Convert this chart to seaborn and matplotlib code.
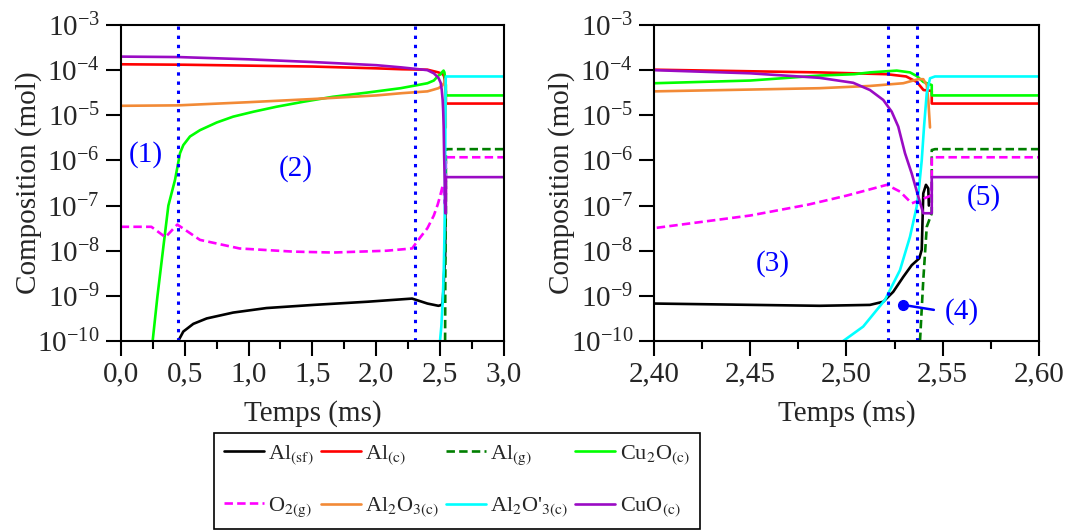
import numpy as np
import pandas as pd
import matplotlib
matplotlib.use("Agg")
import matplotlib.pyplot as plt
import matplotlib.ticker as mticker
import seaborn as sns

sns.set_style("ticks")
plt.rcParams['font.family'] = ['Liberation Serif', 'DejaVu Serif']
plt.rcParams['mathtext.fontset'] = 'stix'
plt.rcParams['mathtext.default'] = 'rm'

# Data: time (ms) and log10 of composition (mol)
t_alsf = [0.45, 0.49, 0.568, 0.673, 0.88, 1.14, 1.51, 1.93, 2.28, 2.40, 2.486, 2.5122, 2.5191,
          2.5243, 2.5295, 2.5339, 2.5378, 2.5391, 2.5399, 2.5413, 2.5425, 2.5428]
e_alsf = [-10.0, -9.79, -9.62, -9.50, -9.37, -9.27, -9.20, -9.13, -9.06, -9.17, -9.22, -9.20, -9.13,
          -8.91, -8.58, -8.32, -8.17, -7.98, -6.73, -6.54, -6.62, -7.0]

t_alc = [0.0, 0.5, 1.0, 1.5, 2.0, 2.2, 2.40, 2.486, 2.521, 2.531, 2.5365, 2.540, 2.5443, 2.5443, 3.0]
e_alc = [-3.87, -3.88, -3.90, -3.92, -3.96, -3.98, -3.99, -4.05, -4.09, -4.14, -4.26, -4.44, -4.46, -4.74, -4.74]

t_alg = [2.5382, 2.5399, 2.5417, 2.5443, 2.5443, 2.546, 3.0]
e_alg = [-10.0, -8.65, -7.47, -7.17, -5.77, -5.75, -5.75]

t_cu2o = [0.25, 0.287, 0.334, 0.373, 0.425, 0.464, 0.49, 0.542, 0.62, 0.751, 0.88, 1.04, 1.22, 1.43,
          1.66, 1.92, 2.19, 2.40, 2.45, 2.486, 2.504, 2.5122, 2.5261, 2.533, 2.5365, 2.5399, 2.5443,
          2.5443, 3.0]
e_cu2o = [-10.0, -9.02, -7.91, -7.0, -6.43, -5.84, -5.66, -5.47, -5.33, -5.16, -5.03, -4.92, -4.81, -4.70,
          -4.59, -4.50, -4.40, -4.29, -4.23, -4.12, -4.09, -4.05, -4.01, -4.05, -4.13, -4.26, -4.33,
          -4.56, -4.56]

t_o2 = [0.0, 0.24, 0.35, 0.443, 0.62, 0.93, 1.35, 1.66, 2.08, 2.28, 2.342, 2.40, 2.45, 2.48, 2.50,
        2.521, 2.5278, 2.5339, 2.5382, 2.5443, 2.5443, 3.0]
e_o2 = [-7.47, -7.47, -7.70, -7.42, -7.76, -7.95, -8.02, -8.04, -8.00, -7.95, -7.71, -7.50, -7.22, -6.98, -6.78,
        -6.54, -6.69, -6.95, -6.88, -6.77, -5.93, -5.93]

t_al2o3 = [0.0, 0.45, 1.0, 1.5, 2.0, 2.2, 2.40, 2.45, 2.486, 2.5122, 2.5295, 2.5373, 2.5399, 2.5417,
           2.5425, 2.5434]
e_al2o3 = [-4.79, -4.78, -4.71, -4.64, -4.56, -4.51, -4.47, -4.43, -4.40, -4.35, -4.29, -4.20, -4.20, -4.33,
           -4.66, -5.27]

t_al2o3p = [2.4983, 2.5087, 2.52, 2.5278, 2.533, 2.5365, 2.5377, 2.5391, 2.5403, 2.5417, 2.5434, 2.546, 3.0]
e_al2o3p = [-10.0, -9.68, -9.09, -8.43, -7.69, -7.02, -6.6, -6.0, -5.25, -4.51, -4.18, -4.14, -4.14]

t_cuo = [0.0, 0.45, 1.0, 1.5, 2.0, 2.2, 2.40, 2.45, 2.486, 2.5035, 2.5122, 2.5191, 2.5235, 2.5269,
         2.5304, 2.5339, 2.5373, 2.5399, 2.5443, 2.5443, 3.0]
e_cuo = [-3.70, -3.71, -3.76, -3.82, -3.89, -3.94, -4.00, -4.07, -4.17, -4.28, -4.44, -4.66, -4.92, -5.25,
         -5.84, -6.29, -6.80, -7.17, -7.17, -6.37, -6.37]

labels = ['Al$_{(sf)}$', 'Al$_{(c)}$', 'Al$_{(g)}$', 'Cu$_2$O$_{(c)}$',
          'O$_{2(g)}$', 'Al$_2$O$_{3(c)}$', "Al$_2$O'$_{3(c)}$", 'CuO$_{(c)}$']
series = [(t_alsf, e_alsf), (t_alc, e_alc), (t_alg, e_alg), (t_cu2o, e_cu2o),
          (t_o2, e_o2), (t_al2o3, e_al2o3), (t_al2o3p, e_al2o3p), (t_cuo, e_cuo)]
colors = ['black', '#ff0000', '#007f00', '#00ff00', '#ff00ff', '#f28a36', '#00ffff', '#9a0bc4']
dashed = [False, False, True, False, True, False, False, False]

# phase boundaries (ms)
bornes_gauche = [0.446, 2.30]
bornes_droite = [2.5217, 2.5368]

fig = plt.figure(figsize=(10.71, 5.32), dpi=100)
ax1 = fig.add_axes([0.1127, 0.359, 0.358, 0.594])
ax2 = fig.add_axes([0.6106, 0.359, 0.3595, 0.594])

for ax in (ax1, ax2):
    for (t, e), lab, c, d in zip(series, labels, colors, dashed):
        df = pd.DataFrame({'t': t, 'c': 10.0 ** np.array(e)})
        ls = (0, (3.2, 1.6)) if d else '-'
        sns.lineplot(data=df, x='t', y='c', ax=ax, color=c, lw=1.9, linestyle=ls,
                     estimator=None, sort=False, label=lab, legend=False)
    ax.set_yscale('log')
    ax.set_ylim(1e-10, 1e-3)
    ax.yaxis.set_major_locator(mticker.LogLocator(base=10, numticks=20))
    ax.yaxis.set_minor_locator(mticker.NullLocator())
    ax.yaxis.set_major_formatter(mticker.FuncFormatter(
        lambda v, p: r'$\mathregular{10^{%d}}$' % round(np.log10(v))))
    ax.set_ylabel('Composition (mol)', fontsize=21, labelpad=-3)
    ax.set_xlabel('Temps (ms)', fontsize=21, labelpad=9)
    for s in ax.spines.values():
        s.set_linewidth(1.5)
        s.set_color('black')
    ax.tick_params(axis='both', which='major', direction='out', length=11, width=1.5,
                   labelsize=21, pad=4, color='black')
    ax.tick_params(axis='x', which='minor', direction='out', length=6, width=1.5, color='black')

ax1.set_xlim(0, 3.0)
ax1.xaxis.set_major_locator(mticker.MultipleLocator(0.5))
ax1.xaxis.set_minor_locator(mticker.MultipleLocator(0.25))
ax1.xaxis.set_major_formatter(mticker.FuncFormatter(lambda v, p: ('%.1f' % v).replace('.', ',')))
ax2.set_xlim(2.40, 2.60)
ax2.xaxis.set_major_locator(mticker.MultipleLocator(0.05))
ax2.xaxis.set_minor_locator(mticker.MultipleLocator(0.025))
ax2.xaxis.set_major_formatter(mticker.FuncFormatter(lambda v, p: ('%.2f' % v).replace('.', ',')))

for x in bornes_gauche:
    ax1.axvline(x, color='blue', lw=2.2, linestyle=(0, (1.1, 1.9)))
for x in bornes_droite:
    ax2.axvline(x, color='blue', lw=2.2, linestyle=(0, (1.1, 1.9)))

txt = dict(color='blue', fontsize=21, ha='center', va='center')
ax1.text(0.194, 10 ** -5.88, '(1)', **txt)
ax1.text(1.368, 10 ** -6.19, '(2)', **txt)
ax2.text(2.4618, 10 ** -8.29, '(3)', **txt)
ax2.text(2.5600, 10 ** -9.34, '(4)', **txt)
ax2.text(2.5712, 10 ** -6.83, '(5)', **txt)
ax2.plot([2.5294, 2.5454], [10 ** -9.20, 10 ** -9.31], color='blue', lw=1.8)
ax2.plot([2.5294], [10 ** -9.20], 'o', color='blue', ms=7)

h, l = ax1.get_legend_handles_labels()
h, l = h[:8], l[:8]
order = [0, 4, 1, 5, 2, 6, 3, 7]
leg = fig.legend([h[i] for i in order], [l[i] for i in order], ncol=4, loc='upper left',
                 bbox_to_anchor=(214 / 1071, 1 - 433 / 532), fontsize=16, frameon=True,
                 fancybox=False, edgecolor='black', framealpha=1, handlelength=1.8,
                 handletextpad=0.2, columnspacing=0.3, labelspacing=1.3, borderpad=0.45,
                 borderaxespad=0)
leg.get_frame().set_linewidth(1.2)

plt.savefig('out.png', dpi=100)
